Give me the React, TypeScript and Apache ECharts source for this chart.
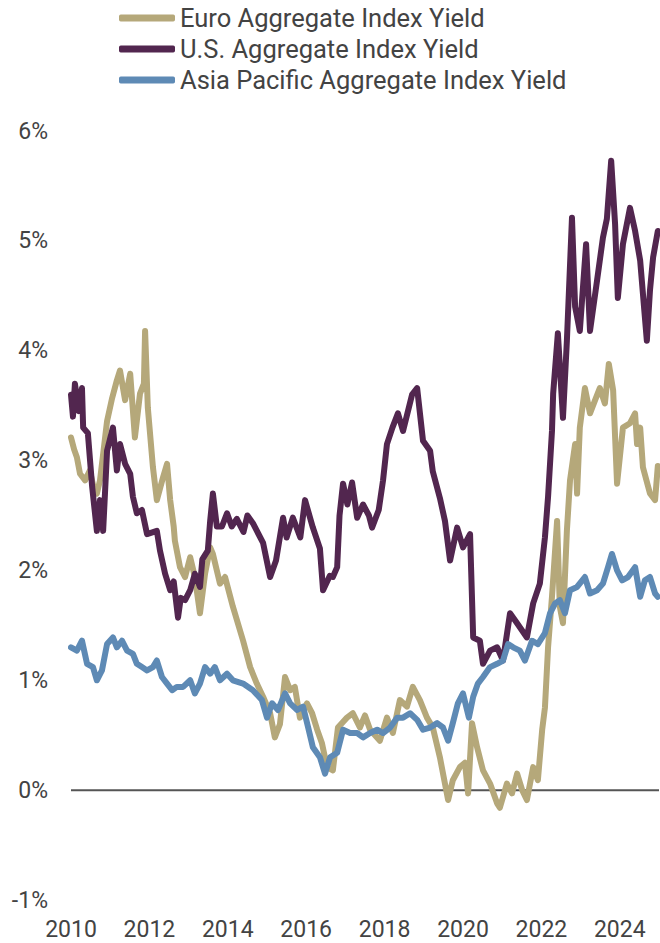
import React, { useEffect, useRef } from "react";
import * as echarts from "echarts";

// Yields in percent, keyed by decimal year.
const euroYield: [number, number][] = [
  [2010.0, 3.21], [2010.08, 3.1], [2010.15, 3.03], [2010.23, 2.88], [2010.36, 2.82], [2010.48, 2.91],
  [2010.58, 2.75], [2010.66, 2.7], [2010.74, 2.82], [2010.92, 3.36], [2011.05, 3.57], [2011.17, 3.73],
  [2011.25, 3.82], [2011.38, 3.55], [2011.51, 3.79], [2011.63, 3.21], [2011.76, 3.61], [2011.86, 3.7],
  [2011.89, 4.18], [2011.96, 3.48], [2012.09, 2.94], [2012.19, 2.64], [2012.35, 2.85], [2012.45, 2.97],
  [2012.53, 2.64], [2012.62, 2.4], [2012.65, 2.27], [2012.78, 2.03], [2012.91, 1.94], [2013.04, 2.12],
  [2013.16, 1.94], [2013.29, 1.61], [2013.42, 1.97], [2013.55, 2.21], [2013.62, 2.15], [2013.8, 1.88],
  [2013.93, 1.94], [2014.13, 1.67], [2014.39, 1.36], [2014.57, 1.12], [2014.74, 0.97], [2014.9, 0.85],
  [2015.08, 0.7], [2015.2, 0.48], [2015.33, 0.6], [2015.46, 1.03], [2015.59, 0.91], [2015.71, 0.94],
  [2015.84, 0.66], [2016.02, 0.79], [2016.15, 0.7], [2016.28, 0.55], [2016.4, 0.43], [2016.53, 0.21],
  [2016.68, 0.18], [2016.81, 0.57], [2017.04, 0.66], [2017.19, 0.7], [2017.37, 0.57], [2017.5, 0.68],
  [2017.63, 0.55], [2017.88, 0.45], [2018.06, 0.66], [2018.21, 0.52], [2018.39, 0.82], [2018.57, 0.76],
  [2018.72, 0.94], [2018.9, 0.82], [2019.08, 0.66], [2019.23, 0.57], [2019.41, 0.3], [2019.62, -0.09],
  [2019.74, 0.09], [2019.92, 0.21], [2020.05, 0.25], [2020.13, -0.03], [2020.23, 0.61], [2020.36, 0.39],
  [2020.51, 0.18], [2020.69, 0.06], [2020.87, -0.12], [2020.94, -0.16], [2021.12, 0.06], [2021.25, -0.03],
  [2021.38, 0.15], [2021.51, 0.0], [2021.63, -0.09], [2021.79, 0.21], [2021.91, 0.09], [2022.02, 0.55],
  [2022.09, 0.75], [2022.17, 1.3], [2022.27, 1.76], [2022.4, 2.45], [2022.47, 1.67], [2022.55, 1.52],
  [2022.65, 2.36], [2022.73, 2.82], [2022.86, 3.15], [2022.91, 2.7], [2022.98, 3.3], [2023.11, 3.66],
  [2023.24, 3.43], [2023.37, 3.55], [2023.49, 3.66], [2023.62, 3.52], [2023.72, 3.88], [2023.83, 3.64],
  [2023.93, 2.79], [2024.08, 3.3], [2024.26, 3.34], [2024.39, 3.43], [2024.44, 3.15], [2024.52, 3.3],
  [2024.59, 2.94], [2024.77, 2.7], [2024.9, 2.64], [2024.97, 2.95],
];

const usYield: [number, number][] = [
  [2010.0, 3.6], [2010.05, 3.4], [2010.1, 3.7], [2010.2, 3.45], [2010.28, 3.66], [2010.31, 3.3],
  [2010.43, 3.25], [2010.54, 2.76], [2010.66, 2.36], [2010.74, 2.64], [2010.82, 2.36], [2010.92, 3.09],
  [2011.07, 3.3], [2011.17, 2.91], [2011.25, 3.15], [2011.38, 2.97], [2011.51, 2.88], [2011.58, 2.67],
  [2011.68, 2.52], [2011.81, 2.55], [2011.94, 2.33], [2012.19, 2.36], [2012.27, 2.18], [2012.4, 1.97],
  [2012.53, 1.82], [2012.62, 1.9], [2012.73, 1.57], [2012.8, 1.75], [2012.91, 1.73], [2013.04, 1.82],
  [2013.16, 1.97], [2013.29, 1.85], [2013.35, 2.1], [2013.49, 2.18], [2013.55, 2.45], [2013.62, 2.7],
  [2013.72, 2.4], [2013.85, 2.4], [2013.98, 2.52], [2014.1, 2.4], [2014.23, 2.47], [2014.4, 2.35],
  [2014.5, 2.5], [2014.64, 2.43], [2014.9, 2.25], [2015.08, 1.94], [2015.23, 2.09], [2015.41, 2.48],
  [2015.5, 2.3], [2015.66, 2.48], [2015.85, 2.3], [2015.97, 2.64], [2016.17, 2.39], [2016.35, 2.2],
  [2016.43, 1.82], [2016.6, 1.95], [2016.68, 1.94], [2016.79, 2.03], [2016.85, 2.5], [2016.94, 2.79],
  [2017.05, 2.6], [2017.17, 2.8], [2017.3, 2.48], [2017.45, 2.6], [2017.6, 2.5], [2017.68, 2.39],
  [2017.85, 2.55], [2017.96, 2.82], [2018.06, 3.15], [2018.2, 3.3], [2018.34, 3.43], [2018.47, 3.27],
  [2018.7, 3.6], [2018.83, 3.66], [2018.98, 3.18], [2019.16, 3.09], [2019.23, 2.9], [2019.41, 2.66],
  [2019.54, 2.45], [2019.67, 2.09], [2019.85, 2.39], [2020.0, 2.21], [2020.18, 2.33], [2020.26, 1.39],
  [2020.43, 1.36], [2020.51, 1.15], [2020.69, 1.27], [2020.87, 1.3], [2021.02, 1.18], [2021.2, 1.61],
  [2021.38, 1.52], [2021.63, 1.39], [2021.79, 1.7], [2021.96, 1.88], [2022.09, 2.3], [2022.17, 2.67],
  [2022.27, 3.27], [2022.3, 3.61], [2022.42, 4.16], [2022.55, 3.39], [2022.65, 4.09], [2022.78, 5.21],
  [2022.86, 4.4], [2022.98, 4.18], [2023.14, 4.97], [2023.24, 4.18], [2023.42, 4.64], [2023.57, 5.03],
  [2023.67, 5.2], [2023.78, 5.73], [2023.88, 5.15], [2023.95, 4.48], [2024.08, 4.97], [2024.26, 5.3],
  [2024.39, 5.09], [2024.52, 4.82], [2024.69, 4.09], [2024.77, 4.55], [2024.85, 4.85], [2024.97, 5.09],
];

const asiaPacificYield: [number, number][] = [
  [2010.0, 1.3], [2010.15, 1.27], [2010.28, 1.36], [2010.41, 1.15], [2010.56, 1.12], [2010.66, 1.0],
  [2010.79, 1.09], [2010.92, 1.33], [2011.07, 1.39], [2011.17, 1.3], [2011.3, 1.36], [2011.43, 1.27],
  [2011.58, 1.24], [2011.68, 1.15], [2011.81, 1.12], [2011.94, 1.09], [2012.09, 1.12], [2012.19, 1.18],
  [2012.32, 1.03], [2012.45, 0.97], [2012.58, 0.91], [2012.7, 0.94], [2012.86, 0.94], [2013.04, 1.0],
  [2013.16, 0.88], [2013.29, 0.97], [2013.42, 1.12], [2013.55, 1.06], [2013.67, 1.12], [2013.8, 1.0],
  [2013.98, 1.06], [2014.13, 1.0], [2014.39, 0.97], [2014.64, 0.91], [2014.87, 0.82], [2015.0, 0.66],
  [2015.13, 0.79], [2015.28, 0.73], [2015.46, 0.88], [2015.59, 0.79], [2015.77, 0.73], [2015.92, 0.76],
  [2016.05, 0.57], [2016.17, 0.39], [2016.35, 0.3], [2016.48, 0.15], [2016.61, 0.3], [2016.79, 0.34],
  [2016.94, 0.55], [2017.12, 0.52], [2017.3, 0.52], [2017.45, 0.48], [2017.63, 0.52], [2017.81, 0.55],
  [2017.96, 0.52], [2018.14, 0.57], [2018.32, 0.66], [2018.47, 0.66], [2018.65, 0.7], [2018.83, 0.64],
  [2018.98, 0.55], [2019.16, 0.57], [2019.34, 0.61], [2019.49, 0.57], [2019.62, 0.45], [2019.74, 0.61],
  [2019.87, 0.79], [2020.0, 0.88], [2020.15, 0.66], [2020.26, 0.85], [2020.38, 0.97], [2020.51, 1.03],
  [2020.69, 1.12], [2020.87, 1.15], [2021.02, 1.18], [2021.15, 1.33], [2021.28, 1.3], [2021.45, 1.27],
  [2021.58, 1.18], [2021.76, 1.36], [2021.91, 1.33], [2022.09, 1.43], [2022.22, 1.61], [2022.35, 1.7],
  [2022.47, 1.73], [2022.6, 1.61], [2022.73, 1.82], [2022.91, 1.85], [2023.11, 1.94], [2023.24, 1.79],
  [2023.42, 1.82], [2023.57, 1.88], [2023.7, 2.03], [2023.8, 2.15], [2023.93, 2.0], [2024.06, 1.91],
  [2024.21, 1.94], [2024.39, 2.03], [2024.52, 1.76], [2024.64, 1.91], [2024.77, 1.94], [2024.9, 1.79],
  [2024.97, 1.76],
];

const seriesNames = [
  "Euro Aggregate Index Yield",
  "U.S. Aggregate Index Yield",
  "Asia Pacific Aggregate Index Yield",
];
const seriesColors = ["#B5A87A", "#52264F", "#5E8AB5"];

// Axis extents (years and percent)
const yearStart = 2010;
const yearEnd = 2025;
const yearStep = 2;
const yieldMin = -1;
const yieldMax = 6;
const yieldStep = 1;

const zeroLine: [number, number][] = [
  [yearStart, 0],
  [yearEnd, 0],
];

const FONT = "Roboto, 'Liberation Sans', Arial, sans-serif";
const TEXT_COLOR = "#434343";

export default function App() {
  const ref = useRef<HTMLDivElement>(null);

  useEffect(() => {
    if (!ref.current) return;
    const chart = echarts.init(ref.current, undefined, { renderer: "svg" });
    const lineSeries = [euroYield, usYield, asiaPacificYield].map((data, i) => ({
      name: seriesNames[i],
      type: "line",
      data,
      showSymbol: false,
      symbol: "none",
      z: 3 + i,
      lineStyle: { color: seriesColors[i], width: 6, cap: "round", join: "round" },
      itemStyle: { color: seriesColors[i] },
    }));

    chart.setOption({
      animation: false,
      backgroundColor: "#ffffff",
      textStyle: { fontFamily: FONT },
      legend: {
        data: seriesNames,
        orient: "vertical",
        left: 114,
        top: 0,
        icon: "roundRect",
        itemWidth: 56,
        itemHeight: 7,
        itemGap: 5,
        textStyle: { fontFamily: FONT, fontSize: 25.5, color: TEXT_COLOR, lineHeight: 26 },
        selectedMode: false,
      },
      grid: { left: 71, right: 1, top: 131, bottom: 43 },
      xAxis: {
        type: "value",
        min: yearStart,
        max: yearEnd,
        interval: yearStep,
        axisLine: { show: false },
        axisTick: { show: false },
        splitLine: { show: false },
        axisLabel: {
          fontFamily: FONT,
          fontSize: 23,
          color: TEXT_COLOR,
          margin: 18,
          showMaxLabel: false,
          formatter: (v: number) => String(v),
        },
      },
      yAxis: {
        type: "value",
        min: yieldMin,
        max: yieldMax,
        interval: yieldStep,
        axisLine: { show: false },
        axisTick: { show: false },
        splitLine: { show: false },
        axisLabel: {
          fontFamily: FONT,
          fontSize: 23,
          color: TEXT_COLOR,
          margin: 23,
          formatter: "{value}%",
        },
      },
      series: [
        {
          name: "zero",
          type: "line",
          data: zeroLine,
          symbol: "none",
          silent: true,
          z: 1,
          lineStyle: { color: "#555555", width: 2 },
        },
        ...lineSeries,
      ],
    });

    return () => chart.dispose();
  }, []);

  return <div ref={ref} style={{ width: 660, height: 943, position: "absolute", left: 0, top: 0 }} />;
}
